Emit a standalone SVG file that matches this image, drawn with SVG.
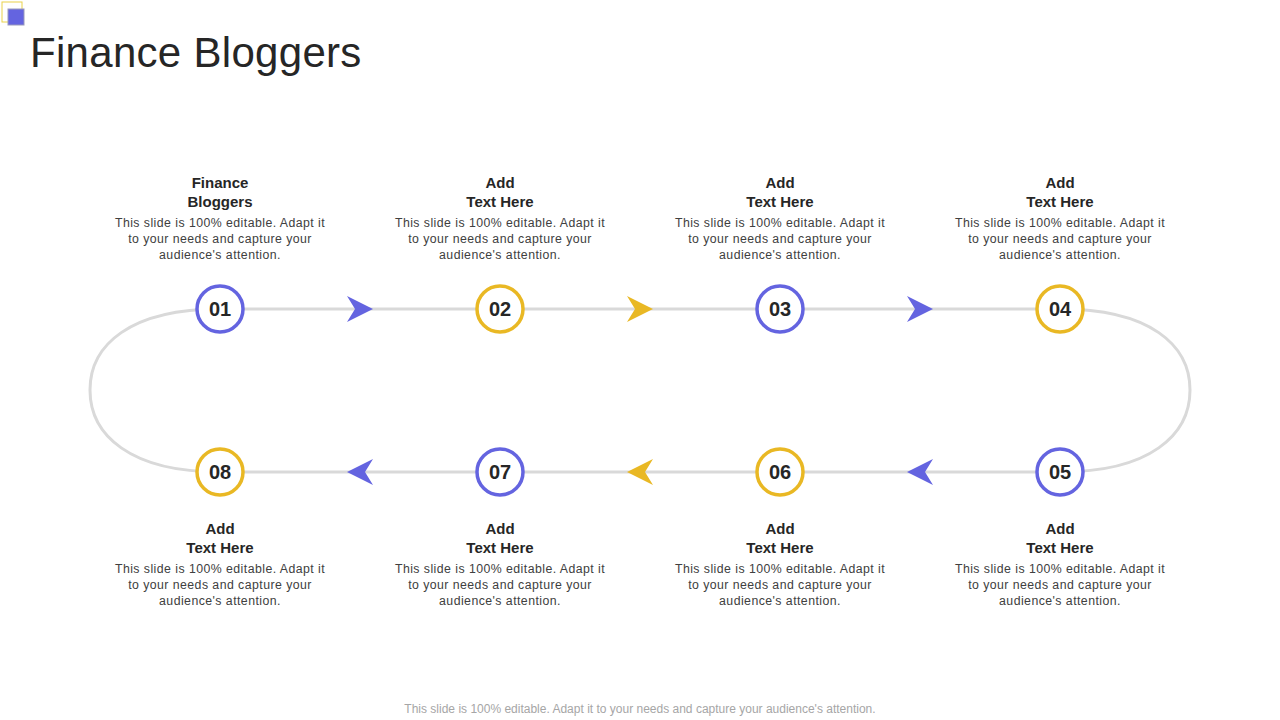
<svg xmlns="http://www.w3.org/2000/svg" width="1280" height="720" viewBox="0 0 1280 720">
<style>
.t{font-family:"Liberation Sans",Arial,sans-serif;fill:#262626}
.h{font-size:15px;font-weight:bold;text-anchor:middle}
.d{font-size:12.3px;fill:#404040;text-anchor:middle;letter-spacing:0.45px}
.n{font-size:20px;font-weight:bold;text-anchor:middle}
.b{fill:#fff;stroke:#6464E0;stroke-width:3.5}
.y{fill:#fff;stroke:#E9B824;stroke-width:3.5}
.ab{fill:#6464E0}.ay{fill:#E9B824}
</style>
<defs>
<path id="ar" d="M13,0 L-13,-13 L-5,0 L-13,13 Z"/>
</defs>
<rect x="2" y="2" width="20" height="20" fill="none" stroke="#E9D24A" stroke-width="1"/>
<rect x="8" y="9" width="16" height="16" fill="#6464E0" stroke="#9999BB" stroke-width="1"/>
<text class="t" x="30" y="67" font-size="42" letter-spacing="0.3">Finance Bloggers</text>
<g id="connectors" fill="none" stroke="#D9D9D9" stroke-width="3">
<path d="M220,309 H1060 C1150,309 1190,345 1190,390 C1190,435 1150,472 1060,472 H220 C130,472 90,435 90,390 C90,345 130,309 220,309 Z"/>
<use href="#ar" class="ab" stroke="none" transform="translate(360,309)"/>
<use href="#ar" class="ay" stroke="none" transform="translate(640,309)"/>
<use href="#ar" class="ab" stroke="none" transform="translate(920,309)"/>
<use href="#ar" class="ab" stroke="none" transform="translate(920,472) rotate(180)"/>
<use href="#ar" class="ay" stroke="none" transform="translate(640,472) rotate(180)"/>
<use href="#ar" class="ab" stroke="none" transform="translate(360,472) rotate(180)"/>
</g>
<g id="n1"><circle class="b" cx="220" cy="309" r="23"/><text class="t n" x="220" y="316">01</text>
<text class="t h" x="220" y="188">Finance</text><text class="t h" x="220" y="207">Bloggers</text>
<text class="t d" x="220" y="227">This slide is 100% editable. Adapt it</text><text class="t d" x="220" y="243">to your needs and capture your</text><text class="t d" x="220" y="259">audience's attention.</text></g>
<g id="n2"><circle class="y" cx="500" cy="309" r="23"/><text class="t n" x="500" y="316">02</text>
<text class="t h" x="500" y="188">Add</text><text class="t h" x="500" y="207">Text Here</text>
<text class="t d" x="500" y="227">This slide is 100% editable. Adapt it</text><text class="t d" x="500" y="243">to your needs and capture your</text><text class="t d" x="500" y="259">audience's attention.</text></g>
<g id="n3"><circle class="b" cx="780" cy="309" r="23"/><text class="t n" x="780" y="316">03</text>
<text class="t h" x="780" y="188">Add</text><text class="t h" x="780" y="207">Text Here</text>
<text class="t d" x="780" y="227">This slide is 100% editable. Adapt it</text><text class="t d" x="780" y="243">to your needs and capture your</text><text class="t d" x="780" y="259">audience's attention.</text></g>
<g id="n4"><circle class="y" cx="1060" cy="309" r="23"/><text class="t n" x="1060" y="316">04</text>
<text class="t h" x="1060" y="188">Add</text><text class="t h" x="1060" y="207">Text Here</text>
<text class="t d" x="1060" y="227">This slide is 100% editable. Adapt it</text><text class="t d" x="1060" y="243">to your needs and capture your</text><text class="t d" x="1060" y="259">audience's attention.</text></g>
<g id="n5"><circle class="b" cx="1060" cy="472" r="23"/><text class="t n" x="1060" y="479">05</text>
<text class="t h" x="1060" y="534">Add</text><text class="t h" x="1060" y="553">Text Here</text>
<text class="t d" x="1060" y="573">This slide is 100% editable. Adapt it</text><text class="t d" x="1060" y="589">to your needs and capture your</text><text class="t d" x="1060" y="605">audience's attention.</text></g>
<g id="n6"><circle class="y" cx="780" cy="472" r="23"/><text class="t n" x="780" y="479">06</text>
<text class="t h" x="780" y="534">Add</text><text class="t h" x="780" y="553">Text Here</text>
<text class="t d" x="780" y="573">This slide is 100% editable. Adapt it</text><text class="t d" x="780" y="589">to your needs and capture your</text><text class="t d" x="780" y="605">audience's attention.</text></g>
<g id="n7"><circle class="b" cx="500" cy="472" r="23"/><text class="t n" x="500" y="479">07</text>
<text class="t h" x="500" y="534">Add</text><text class="t h" x="500" y="553">Text Here</text>
<text class="t d" x="500" y="573">This slide is 100% editable. Adapt it</text><text class="t d" x="500" y="589">to your needs and capture your</text><text class="t d" x="500" y="605">audience's attention.</text></g>
<g id="n8"><circle class="y" cx="220" cy="472" r="23"/><text class="t n" x="220" y="479">08</text>
<text class="t h" x="220" y="534">Add</text><text class="t h" x="220" y="553">Text Here</text>
<text class="t d" x="220" y="573">This slide is 100% editable. Adapt it</text><text class="t d" x="220" y="589">to your needs and capture your</text><text class="t d" x="220" y="605">audience's attention.</text></g>
<text class="t" x="640" y="713" font-size="12" style="fill:#A6A6A6" text-anchor="middle">This slide is 100% editable. Adapt it to your needs and capture your audience's attention.</text>
</svg>
